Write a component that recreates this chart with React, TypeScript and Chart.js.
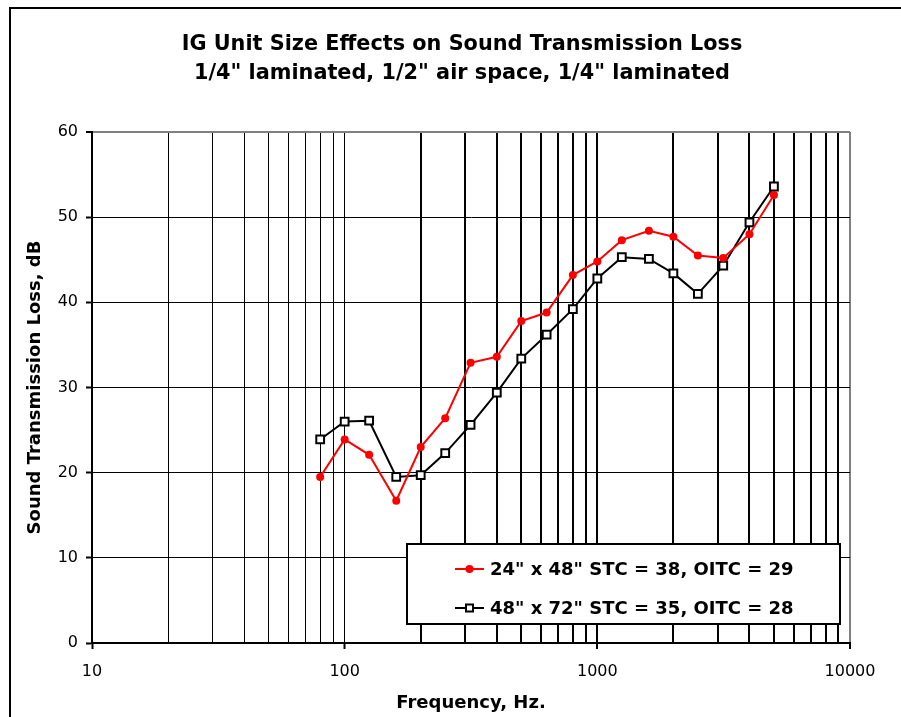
import React, { useEffect, useRef } from "react";
import { Chart, registerables } from "chart.js";

Chart.register(...registerables);

const chartTitle = [
  "IG Unit Size Effects on Sound Transmission Loss",
  '1/4" laminated, 1/2" air space, 1/4" laminated',
];
const xAxisTitle = "Frequency, Hz.";
const yAxisTitle = "Sound Transmission Loss, dB";

const frequencies = [80, 100, 125, 160, 200, 250, 315, 400, 500, 630, 800, 1000, 1250, 1600, 2000, 2500, 3150, 4000, 5000];
const series24x48 = [19.5, 23.9, 22.1, 16.7, 23.0, 26.4, 32.9, 33.6, 37.8, 38.8, 43.2, 44.8, 47.3, 48.4, 47.7, 45.5, 45.2, 48.0, 52.6];
const series48x72 = [23.9, 26.0, 26.1, 19.5, 19.7, 22.3, 25.6, 29.4, 33.4, 36.2, 39.2, 42.8, 45.3, 45.1, 43.4, 41.0, 44.3, 49.4, 53.6];
const seriesLabels = ['24" x 48" STC = 38, OITC = 29', '48" x 72" STC = 35, OITC = 28'];

const xTickValues = [
  10, 20, 30, 40, 50, 60, 70, 80, 90,
  100, 200, 300, 400, 500, 600, 700, 800, 900,
  1000, 2000, 3000, 4000, 5000, 6000, 7000, 8000, 9000,
  10000,
];
const yMin = 0;
const yMax = 60;
const yStep = 10;

const FONT = "DejaVu Sans";

const isDecade = (v: number) => Math.abs(Math.log10(v) - Math.round(Math.log10(v))) < 1e-9;

const framePlugin = {
  id: "frame",
  beforeDraw(chart: any) {
    const ctx = chart.ctx;
    ctx.save();
    ctx.strokeStyle = "#000";
    ctx.lineWidth = 2;
    ctx.beginPath();
    ctx.moveTo(10, chart.height + 10);
    ctx.lineTo(10, 8);
    ctx.lineTo(chart.width + 10, 8);
    ctx.stroke();
    ctx.restore();
  },
};

const boxLegendPlugin = {
  id: "boxLegend",
  afterDraw(chart: any) {
    const ctx = chart.ctx;
    const bx = 407, by = 544, bw = 433, bh = 80;
    ctx.save();
    ctx.fillStyle = "#fff";
    ctx.fillRect(bx, by, bw, bh);
    ctx.strokeStyle = "#000";
    ctx.lineWidth = 2;
    ctx.strokeRect(bx, by, bw, bh);
    const rows = [569, 608];
    chart.data.datasets.forEach((ds: any, i: number) => {
      const y = rows[i];
      ctx.strokeStyle = ds.borderColor;
      ctx.lineWidth = 2;
      ctx.beginPath();
      ctx.moveTo(455, y);
      ctx.lineTo(484, y);
      ctx.stroke();
      if (ds.pointStyle === "rect") {
        ctx.fillStyle = "#fff";
        ctx.fillRect(466, y - 3.5, 7, 7);
        ctx.strokeStyle = ds.pointBorderColor;
        ctx.lineWidth = 2;
        ctx.strokeRect(466, y - 3.5, 7, 7);
      } else {
        ctx.fillStyle = ds.pointBackgroundColor;
        ctx.beginPath();
        ctx.arc(469.5, y, 4, 0, Math.PI * 2);
        ctx.fill();
      }
      ctx.fillStyle = "#000";
      ctx.font = `bold 18px "${FONT}"`;
      ctx.textBaseline = "middle";
      ctx.textAlign = "left";
      ctx.fillText(ds.label, 490, y + 1);
    });
    ctx.restore();
  },
};

export default function App() {
  const canvasRef = useRef<HTMLCanvasElement | null>(null);

  useEffect(() => {
    if (!canvasRef.current) return;
    const chart = new Chart(canvasRef.current, {
      type: "line",
      data: {
        datasets: [
          {
            label: seriesLabels[0],
            data: frequencies.map((f, i) => ({ x: f, y: series24x48[i] })),
            borderColor: "#ff0000",
            backgroundColor: "#ff0000",
            pointBackgroundColor: "#ff0000",
            pointBorderColor: "#ff0000",
            pointStyle: "circle",
            pointRadius: 4,
            pointBorderWidth: 0,
            borderWidth: 2,
            tension: 0,
          },
          {
            label: seriesLabels[1],
            data: frequencies.map((f, i) => ({ x: f, y: series48x72[i] })),
            borderColor: "#000000",
            backgroundColor: "#ffffff",
            pointBackgroundColor: "#ffffff",
            pointBorderColor: "#000000",
            pointStyle: "rect",
            pointRadius: 5.5,
            pointBorderWidth: 2,
            borderWidth: 2,
            tension: 0,
          },
        ],
      },
      options: {
        animation: false,
        responsive: false,
        maintainAspectRatio: false,
        layout: { padding: { left: 23, right: 0, top: 0, bottom: 0 } },
        plugins: {
          legend: { display: false },
          tooltip: { enabled: false },
          title: {
            display: true,
            text: chartTitle,
            color: "#000",
            font: { family: FONT, size: 20.8, weight: "bold", lineHeight: 29 / 20.8 },
            padding: { top: 30, bottom: 44 },
          },
        },
        scales: {
          x: {
            type: "logarithmic",
            position: "bottom",
            min: 10,
            max: 10000,
            afterBuildTicks: (scale: any) => {
              scale.ticks = xTickValues.map((v) => ({ value: v, major: isDecade(v) }));
            },
            afterFit: (scale: any) => {
              scale.height = 74;
              scale.paddingLeft = 0;
              scale.paddingRight = 0;
            },
            ticks: {
              autoSkip: false,
              maxRotation: 0,
              minRotation: 0,
              padding: 13,
              color: "#000",
              font: { family: FONT, size: 16 },
              callback: (value: any) => (isDecade(Number(value)) ? String(value) : ""),
            },
            grid: {
              color: (ctx: any) => (ctx.tick && ctx.tick.value === 10000 ? "#808080" : "#000"),
              lineWidth: (ctx: any) => {
                const v = ctx.tick ? ctx.tick.value : 0;
                if (v === 10000) return 2;
                return v > 100 ? 2 : 1;
              },
              tickColor: (ctx: any) => (ctx.tick && isDecade(ctx.tick.value) ? "#000" : "rgba(0,0,0,0)"),
              tickLength: 6,
              tickWidth: 2,
              drawTicks: true,
            },
            border: { display: true, color: "#000", width: 2 },
            title: {
              display: true,
              text: xAxisTitle,
              color: "#000",
              font: { family: FONT, size: 18, weight: "bold", lineHeight: 1.2 },
              padding: { top: 0, bottom: 3 },
            },
          },
          y: {
            type: "linear",
            position: "left",
            min: yMin,
            max: yMax,
            afterFit: (scale: any) => {
              scale.width = 69;
              scale.paddingTop = 0;
              scale.paddingBottom = 0;
            },
            ticks: {
              stepSize: yStep,
              padding: 8,
              color: "#000",
              font: { family: FONT, size: 16 },
            },
            grid: {
              color: (ctx: any) => (ctx.tick && ctx.tick.value === yMax ? "#808080" : "#000"),
              lineWidth: (ctx: any) => (ctx.tick && ctx.tick.value === yMax ? 2 : 1),
              tickColor: "#000",
              tickLength: 6,
              tickWidth: 2,
              drawTicks: true,
            },
            border: { display: true, color: "#000", width: 2 },
            title: {
              display: true,
              text: yAxisTitle,
              color: "#000",
              font: { family: FONT, size: 18, weight: "bold", lineHeight: 1.2 },
              padding: { top: 2, bottom: 0 },
            },
          },
          yRightSpacer: {
            type: "linear",
            position: "right",
            display: true,
            grid: { display: false, drawOnChartArea: false, drawTicks: false },
            ticks: { display: false },
            border: { display: false },
            afterFit: (scale: any) => {
              scale.width = 51;
              scale.paddingTop = 0;
              scale.paddingBottom = 0;
            },
          },
        },
      },
      plugins: [framePlugin, boxLegendPlugin],
    } as any);
    return () => chart.destroy();
  }, []);

  return (
    <div style={{ position: "fixed", left: 0, top: 0, width: 901, height: 717, background: "#fff" }}>
      <canvas ref={canvasRef} width={901} height={717} style={{ display: "block", width: 901, height: 717 }} />
    </div>
  );
}
